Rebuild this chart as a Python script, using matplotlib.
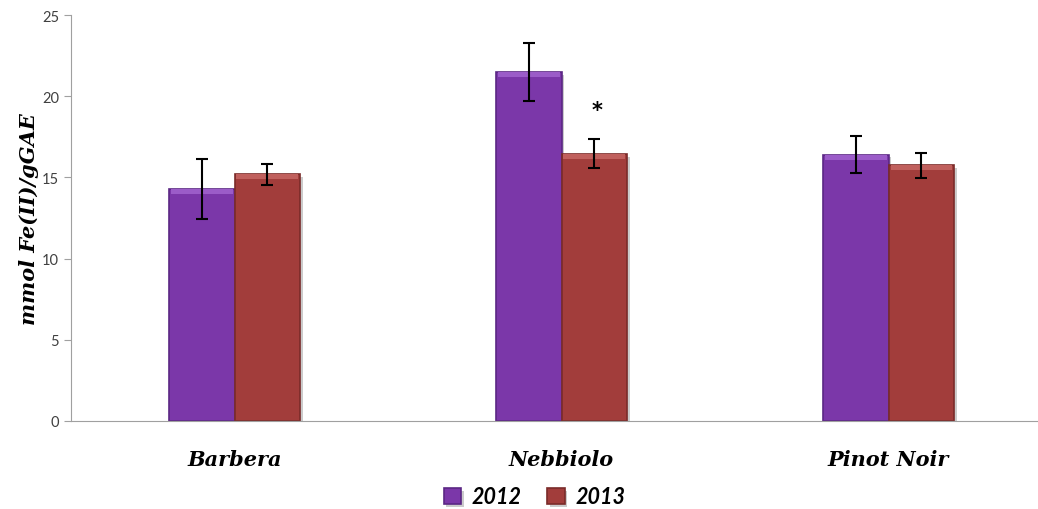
import numpy as np
import matplotlib
matplotlib.use("Agg")
import matplotlib.pyplot as plt
import matplotlib.patheffects as pe

# FRAP antioxidant power per vintage
cultivars = ["Barbera", "Nebbiolo", "Pinot Noir"]
years = ["2012", "2013"]
frap_2012 = [14.3, 21.5, 16.4]
frap_2013 = [15.2, 16.45, 15.75]
sd_2012 = [1.85, 1.8, 1.15]
sd_2013 = [0.65, 0.9, 0.77]
signif_2013 = ["", "*", ""]

purple = "#7B37A9"
red = "#A23D3B"

fig = plt.figure(figsize=(10.38, 5.10), dpi=100)
ax = fig.add_axes([71 / 1038, 1 - 422 / 510, 1 - 71 / 1038, (422 - 16) / 510])

x = np.arange(len(cultivars))
w = 0.2
shadow = [pe.SimplePatchShadow(offset=(2, -2), shadow_rgbFace="#999999", alpha=0.5), pe.Normal()]

b1 = ax.bar(x - w / 2, frap_2012, w, color=purple, edgecolor="#5B2784", linewidth=1.2,
            label=years[0], zorder=2, path_effects=shadow)
b2 = ax.bar(x + w / 2, frap_2013, w, color=red, edgecolor="#7A2B29", linewidth=1.2,
            label=years[1], zorder=2, path_effects=shadow)

# lighter bevel along the top of each bar
ax.bar(x - w / 2, [0.3] * 3, w * 0.94, bottom=np.array(frap_2012) - 0.3,
       color="#9B5CC8", linewidth=0, zorder=3)
ax.bar(x + w / 2, [0.3] * 3, w * 0.94, bottom=np.array(frap_2013) - 0.3,
       color="#C0605D", linewidth=0, zorder=3)

ax.errorbar(x - w / 2, frap_2012, yerr=sd_2012, fmt="none", ecolor="black",
            elinewidth=1.5, capsize=4, capthick=1.5, zorder=4)
ax.errorbar(x + w / 2, frap_2013, yerr=sd_2013, fmt="none", ecolor="black",
            elinewidth=1.5, capsize=4, capthick=1.5, zorder=4)

for xi, v, s, mark in zip(x, frap_2013, sd_2013, signif_2013):
    if mark:
        ax.text(xi + w / 2 + 0.01, v + s + 1.8, mark, ha="center", va="center",
                fontsize=15, fontweight="bold", style="italic", family="DejaVu Sans")

ax.set_xlim(-0.5, 2.457)
ax.set_ylim(0, 25)
ax.set_yticks(range(0, 26, 5))
ax.set_xticks(x)
ax.set_xticklabels(cultivars, fontsize=15, fontweight="bold", style="italic",
                   family="DejaVu Serif")
ax.tick_params(axis="x", length=0, pad=20)
ax.tick_params(axis="y", labelsize=10.5, labelcolor="#404040", color="#A0A0A0",
               length=5, direction="out")
for t in ax.get_yticklabels():
    t.set_family("Lato")

for side in ["top", "right"]:
    ax.spines[side].set_visible(False)
ax.spines["left"].set_color("#A0A0A0")
ax.spines["bottom"].set_color("#A0A0A0")

ax.set_ylabel("mmol Fe(II)/gGAE", fontsize=15, fontweight="bold", style="italic",
              family="DejaVu Serif", labelpad=2)

leg = fig.legend(handles=[b1, b2], loc="center", bbox_to_anchor=(0.515, 1 - 498 / 510),
                 ncol=2, frameon=False, handlelength=0.8, handleheight=0.8,
                 columnspacing=1.2, handletextpad=0.5,
                 prop={"family": "Lato", "weight": "bold", "style": "italic", "size": 15.5})

fig.savefig("out.png", dpi=100)
